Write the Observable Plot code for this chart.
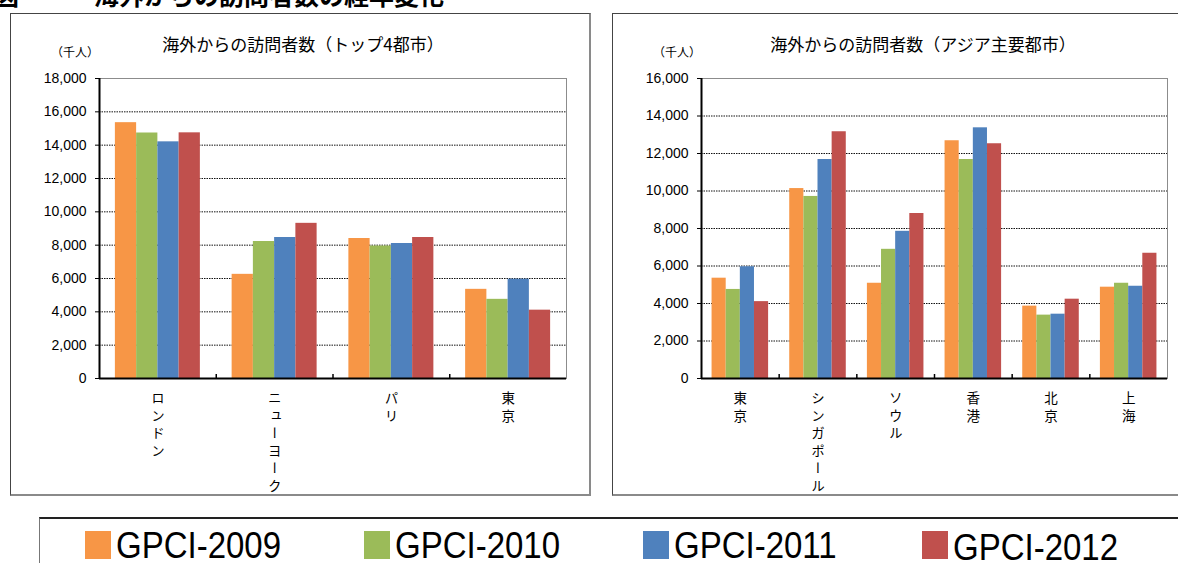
<!DOCTYPE html>
<html><head><meta charset="utf-8">
<script src="https://cdn.jsdelivr.net/npm/d3@7"></script>
<script src="https://cdn.jsdelivr.net/npm/@observablehq/plot@0.6"></script>
<style>
html,body{margin:0;padding:0;}
body{width:1178px;height:563px;overflow:hidden;background:#fff;position:relative;font-family:"Noto Sans CJK JP","Noto Sans",sans-serif;color:#000;}
.panel{position:absolute;top:13px;height:483px;box-sizing:border-box;border:1px solid #444;border-right:2px solid #8a8a8a;border-bottom:2px solid #8a8a8a;background:#fff;}
.chart{position:absolute;top:13px;}
.ctitle{position:absolute;font-size:17px;line-height:17px;white-space:nowrap;transform:translateX(-50%);}
.unit{position:absolute;font-size:12px;line-height:12px;white-space:nowrap;}
.maintitle{position:absolute;top:-18px;font-size:25px;line-height:25px;font-weight:bold;white-space:nowrap;}
.legendbox{position:absolute;left:39px;top:517px;width:1200px;height:80px;box-sizing:border-box;border-top:2px solid #222;border-left:1px solid #777;}
.sw{position:absolute;top:531px;width:26px;height:28px;}
.lt{position:absolute;font-family:"Liberation Sans",Arial,sans-serif;font-size:33px;line-height:33px;white-space:nowrap;transform:scaleY(1.12);transform-origin:left top;}
</style>
</head><body>
<script>
// ---- data ----
const series = ["GPCI-2009", "GPCI-2010", "GPCI-2011", "GPCI-2012"];
const seriesColors = ["#F79646", "#9BBB59", "#4F81BD", "#C0504D"];

const topTitle = "海外からの訪問者数（トップ4都市）";
const topCities = ["ロンドン", "ニューヨーク", "パリ", "東京"];
const top2009 = [15350, 6250, 8400, 5350];
const top2010 = [14730, 8220, 7950, 4750];
const top2011 = [14200, 8460, 8100, 5960];
const top2012 = [14740, 9310, 8460, 4100];
const topTicks = [0, 2000, 4000, 6000, 8000, 10000, 12000, 14000, 16000, 18000];

const asiaTitle = "海外からの訪問者数（アジア主要都市）";
const asiaCities = ["東京", "シンガポール", "ソウル", "香港", "北京", "上海"];
const asia2009 = [5350, 10130, 5080, 12680, 3860, 4870];
const asia2010 = [4750, 9710, 6890, 11680, 3380, 5080];
const asia2011 = [5960, 11680, 7850, 13370, 3430, 4920];
const asia2012 = [4100, 13160, 8800, 12520, 4230, 6680];
const asiaTicks = [0, 2000, 4000, 6000, 8000, 10000, 12000, 14000, 16000];

const unitLabel = "（千人）";
const figTitle = "海外からの訪問者数の経年変化";
const figPrefix = "図";

// ---- drawing ----
const body = document.body;
function el(tag, cls, css, text) {
  const e = document.createElement(tag);
  if (cls) e.className = cls;
  Object.assign(e.style, css || {});
  if (text != null) e.textContent = text;
  body.appendChild(e);
  return e;
}

el("div", "maintitle", {left: "-6px"}, figPrefix);
el("div", "maintitle", {left: "94px"}, figTitle);

function chart({cities, values, ticks, left, width, height, marginLeft, marginRight, marginTop, marginBottom}) {
  const n = cities.length, k = series.length;
  const outer = 0.136, bw = (1 - 2 * outer) / k;
  const rows = [];
  cities.forEach((c, i) => series.forEach((s, j) => rows.push({city: c, i, series: s, j, value: values[j][i]})));
  const yMax = ticks[ticks.length - 1];
  const innerH = height - marginTop - marginBottom;
  const tickLen = yMax * 4 / innerH;
  const svg = Plot.plot({
    width, height, marginLeft, marginRight, marginTop, marginBottom,
    style: {fontFamily: '"Liberation Sans", Arial, "Noto Sans CJK JP", sans-serif', fontSize: "14px", color: "#000", background: "transparent", overflow: "visible"},
    x: {domain: [0, n], ticks: d3.range(n).map(i => i + 0.5), tickFormat: v => cities[Math.floor(v)], tickSize: 0, tickPadding: 13, label: null},
    y: {domain: [0, yMax], ticks, tickFormat: d3.format(","), tickSize: 4, tickPadding: 9, label: null},
    color: {domain: series, range: seriesColors},
    marks: [
      Plot.ruleY(ticks.slice(1, -1), {stroke: "#111", strokeDasharray: "1.5,1", strokeWidth: 1}),
      Plot.frame({stroke: "#8c8c8c"}),
      Plot.rectY(rows, {x1: d => d.i + outer + d.j * bw, x2: d => d.i + outer + (d.j + 1) * bw, y1: 0, y2: "value", fill: "series"}),
      Plot.ruleX(d3.range(1, n), {y1: 0, y2: tickLen, stroke: "#000", strokeWidth: 1.5}),
      Plot.ruleX([0], {stroke: "#000", strokeWidth: 2}),
      Plot.ruleY([0], {stroke: "#000", strokeWidth: 2})
    ]
  });
  svg.classList.add("chart");
  svg.style.left = left + "px";
  body.appendChild(svg);
  // vertical (tategaki) category labels
  d3.select(svg).selectAll("g[aria-label^='x-axis'] text").each(function () {
    const t = d3.select(this);
    const yAttr = t.attr("y");
    if (yAttr && String(yAttr).includes("em")) t.attr("y", 0);
    t.attr("dy", null)
      .attr("text-anchor", "start")
      .style("writing-mode", "vertical-rl")
      .style("font-family", '"Noto Sans CJK JP", sans-serif')
      .style("font-size", "13.5px")
      .style("letter-spacing", "4px");
  });
  return svg;
}

el("div", "panel", {left: "10px", width: "581px"});
el("div", "panel", {left: "612px", width: "620px"});

chart({cities: topCities, values: [top2009, top2010, top2011, top2012], ticks: topTicks,
  left: 10, width: 580, height: 483, marginLeft: 89, marginRight: 24, marginTop: 65, marginBottom: 118});
chart({cities: asiaCities, values: [asia2009, asia2010, asia2011, asia2012], ticks: asiaTicks,
  left: 612, width: 600, height: 483, marginLeft: 89, marginRight: 45, marginTop: 65, marginBottom: 118});

el("div", "ctitle", {left: "303px", top: "35px"}, topTitle);
el("div", "ctitle", {left: "923px", top: "35px"}, asiaTitle);
el("div", "unit", {left: "51px", top: "46px"}, unitLabel);
el("div", "unit", {left: "653px", top: "46px"}, unitLabel);

// legend
el("div", "legendbox", {});
series.forEach((s, j) => {
  const x = 85 + 279 * j;
  el("div", "sw", {left: x + "px", background: seriesColors[j]});
  el("div", "lt", {left: (x + 31) + "px", top: (527 + (j === 3 ? 2 : 0)) + "px"}, s);
});
</script>
</body></html>
